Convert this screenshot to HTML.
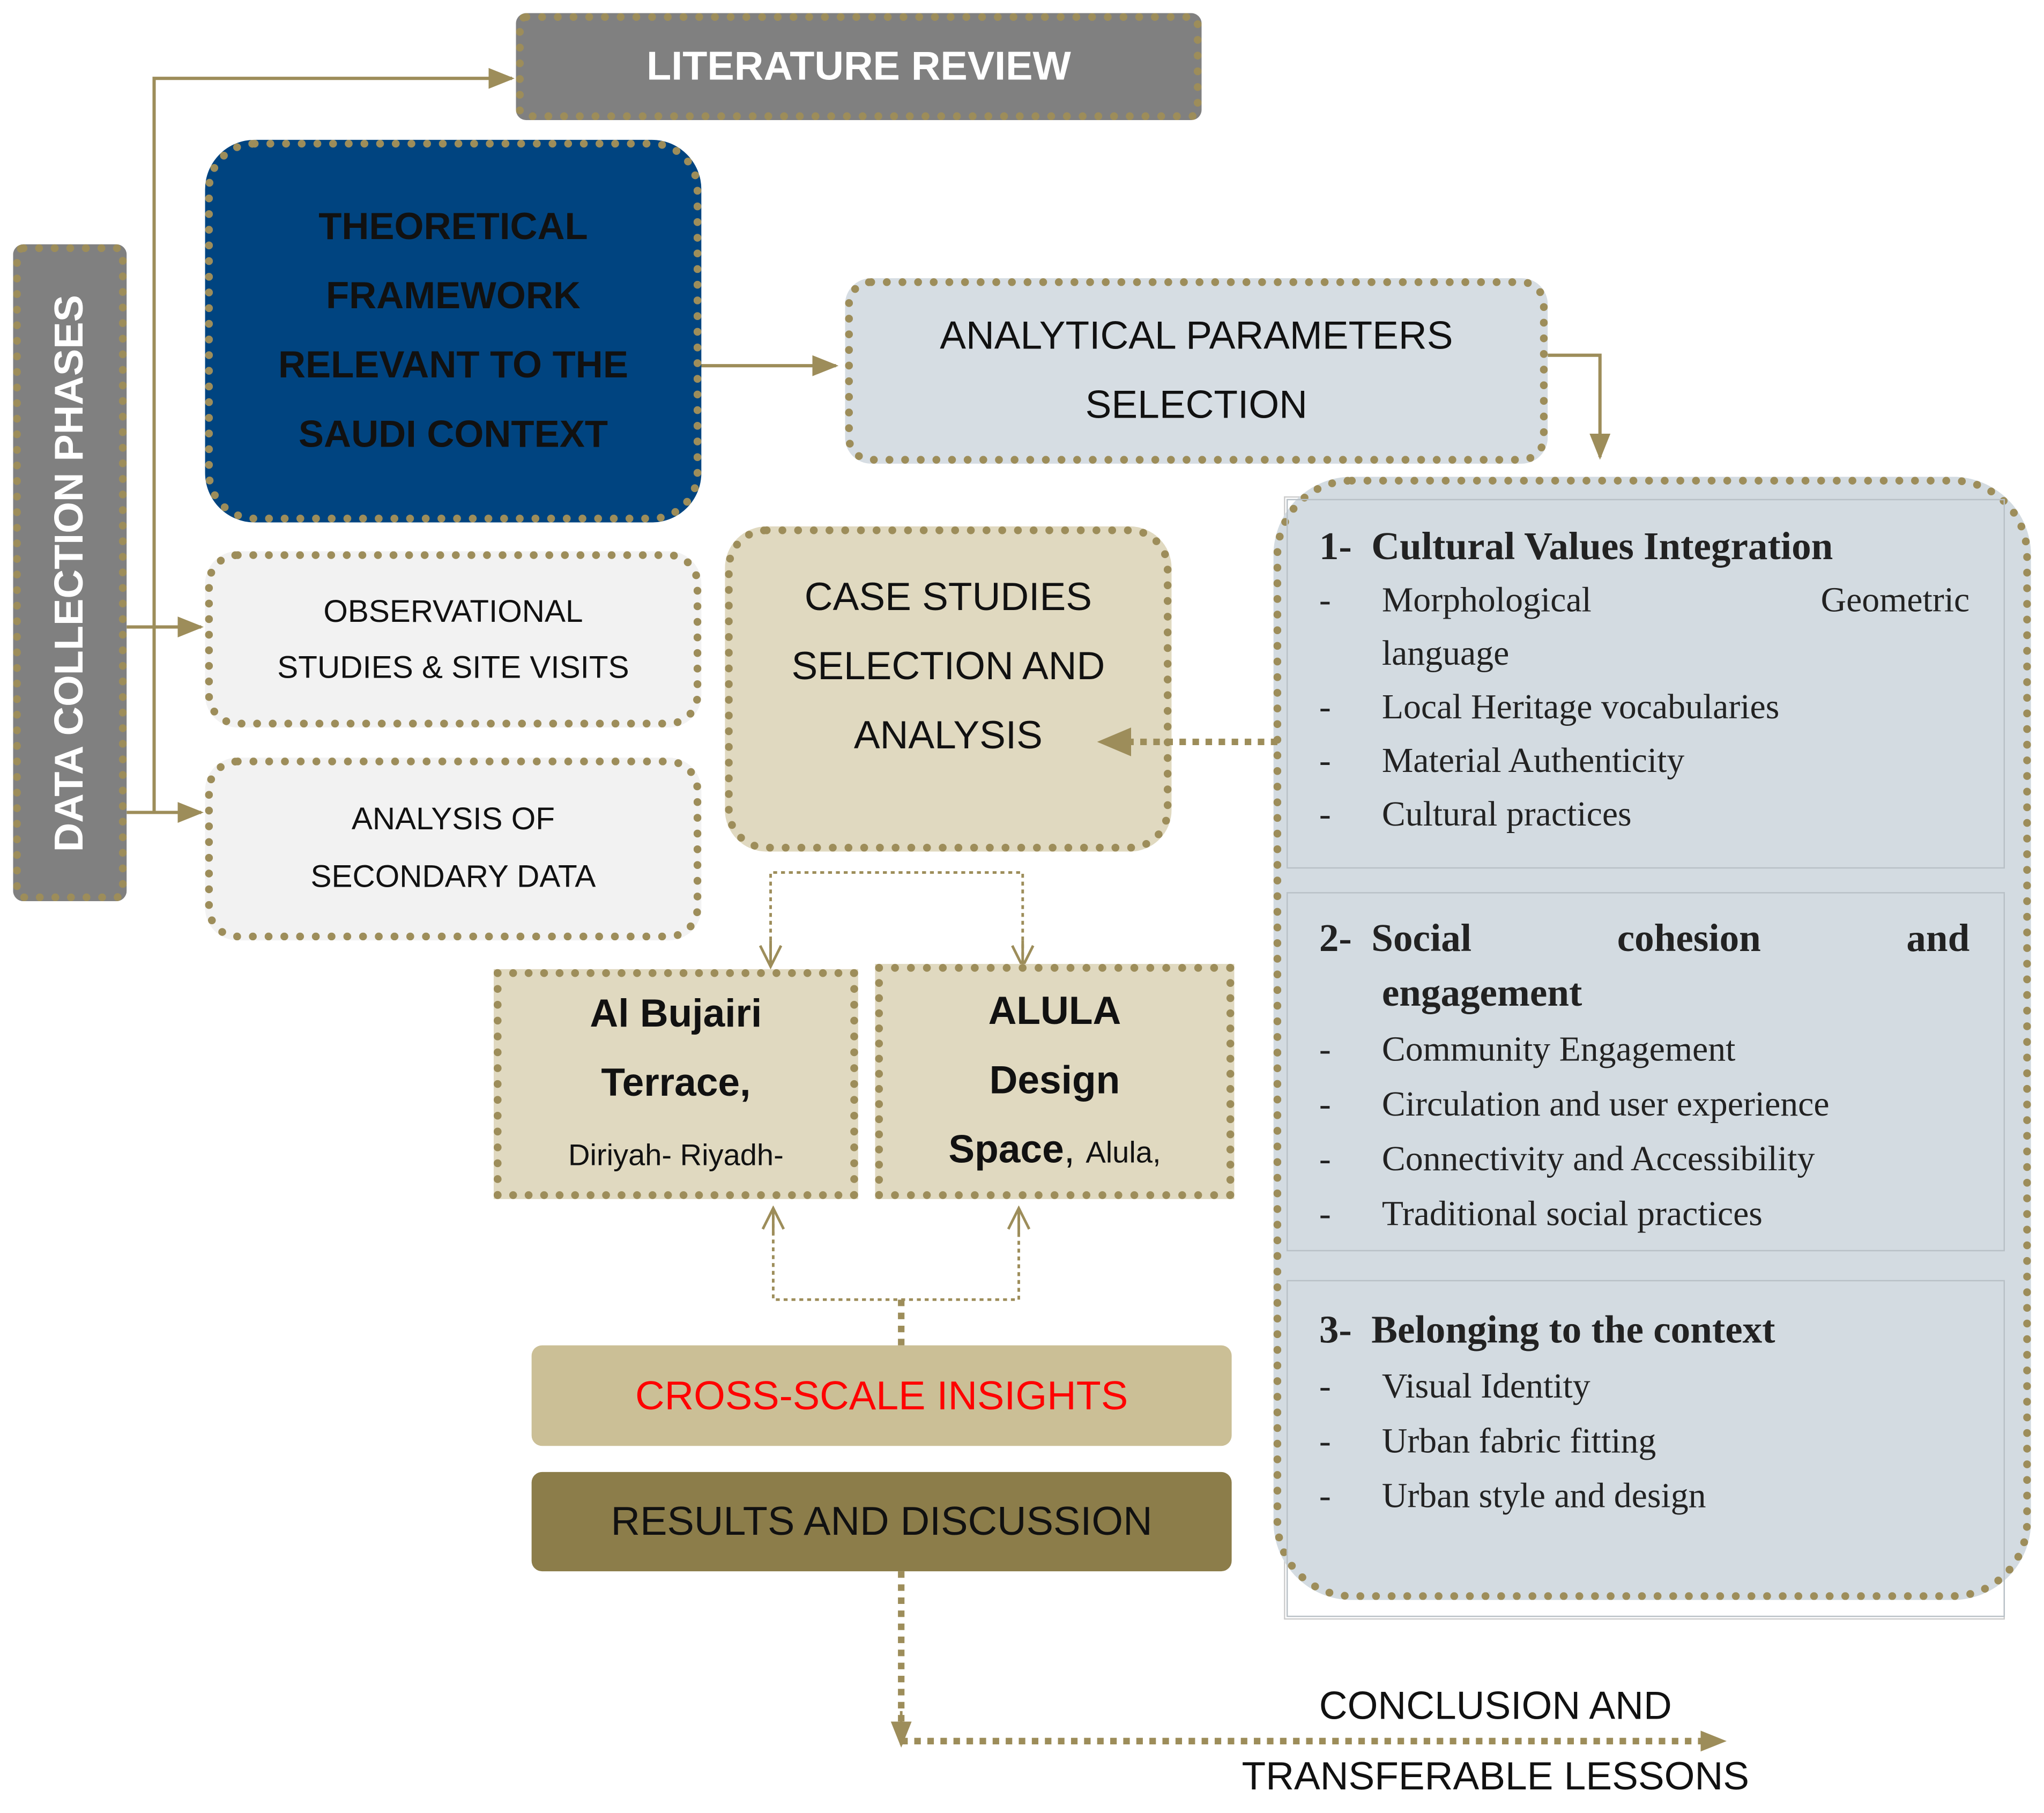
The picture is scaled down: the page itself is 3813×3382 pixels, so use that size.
<!DOCTYPE html>
<html><head><meta charset="utf-8"><style>
body{margin:0;width:3813px;height:3353px;overflow:hidden;background:#fff}
#s{position:absolute;left:0;top:0;width:1565px;height:1376px;transform:scale(2.4365);transform-origin:0 0;font-family:"Liberation Sans",sans-serif}
.b{position:absolute;box-sizing:border-box;border:6px dotted #9d8d5a;display:flex;align-items:center;justify-content:center;text-align:center}
.serif{font-family:"Liberation Serif",serif;color:#222}
</style></head><body><div id="s">
<svg width="1565" height="1376" style="position:absolute;left:0;top:0">
<defs>
<marker id="A" markerWidth="20" markerHeight="20" refX="18" refY="10" orient="auto" markerUnits="userSpaceOnUse"><path d="M0,2L20,10L0,18z" fill="#9d8d5a"/></marker>
<marker id="o" markerWidth="20" markerHeight="20" refX="18" refY="10" orient="auto" markerUnits="userSpaceOnUse"><path d="M2,2L18,10L2,18" fill="none" stroke="#9d8d5a" stroke-width="2"/></marker>
</defs>
<g stroke="#9d8d5a" stroke-width="2.5" fill="none">
<polyline points="118,622 118,60 392,60" marker-end="url(#A)"/>
<line x1="97" y1="480" x2="154" y2="480" marker-end="url(#A)"/>
<line x1="97" y1="622" x2="154" y2="622" marker-end="url(#A)"/>
<line x1="525" y1="280" x2="640" y2="280" marker-end="url(#A)"/>
<polyline points="1185,272 1225,272 1225,350" marker-end="url(#A)"/>
</g>
<g stroke="#9d8d5a" fill="none">
<polyline points="590,738 590,668 783,668 783,738" stroke-width="2" stroke-dasharray="3,3"/>
<line x1="590" y1="720" x2="590" y2="740" stroke-width="2" marker-end="url(#o)"/>
<line x1="783" y1="720" x2="783" y2="740" stroke-width="2" marker-end="url(#o)"/>
<polyline points="592,925 592,995 780,995 780,925" stroke-width="2" stroke-dasharray="3,3"/>
<line x1="592" y1="945" x2="592" y2="925" stroke-width="2" marker-end="url(#o)"/>
<line x1="780" y1="945" x2="780" y2="925" stroke-width="2" marker-end="url(#o)"/>
<line x1="690" y1="995" x2="690" y2="1030" stroke-width="5" stroke-dasharray="5,5"/>
<polyline points="690,1203 690,1333 1320,1333" stroke-width="5" stroke-dasharray="5,5" marker-end="url(#A)"/>
<line x1="690" y1="1310" x2="690" y2="1336" stroke-width="2" marker-end="url(#A)"/>
</g>
</svg>
<div class="b" style="left:395px;top:10px;width:525px;height:82px;background:#808080;color:#fff;font-weight:bold;font-size:31px;border-radius:8px">LITERATURE REVIEW</div>
<div class="b" style="left:10px;top:187px;width:87px;height:503px;background:#808080;border-radius:8px"><div style="transform:rotate(-90deg);white-space:nowrap;color:#fff;font-weight:bold;font-size:31px">DATA COLLECTION PHASES</div></div>
<div class="b" style="left:157px;top:107px;width:380px;height:293px;background:#004480;border-radius:38px;color:#111;font-weight:bold;font-size:29px;line-height:53px">THEORETICAL<br>FRAMEWORK<br>RELEVANT TO THE<br>SAUDI CONTEXT</div>
<div class="b" style="left:647px;top:213px;width:538px;height:142px;background:#d6dde3;border-radius:20px;color:#111;font-size:30px;line-height:53px">ANALYTICAL PARAMETERS<br>SELECTION</div>
<div class="b" style="left:157px;top:422px;width:380px;height:135px;background:#f2f2f2;border-radius:25px;color:#111;font-size:24px;line-height:43px">OBSERVATIONAL<br>STUDIES &amp; SITE VISITS</div>
<div class="b" style="left:157px;top:580px;width:380px;height:140px;background:#f2f2f2;border-radius:25px;color:#111;font-size:24px;line-height:44px">ANALYSIS OF<br>SECONDARY DATA</div>
<div class="b" style="left:555px;top:403px;width:342px;height:249px;background:#e0d9c0;border-radius:32px;color:#111;font-size:30px;line-height:53px;align-items:flex-start;padding-top:22px">CASE STUDIES<br>SELECTION AND<br>ANALYSIS</div>
<div class="b" style="left:378px;top:742px;width:279px;height:176px;background:#e0d9c0;color:#111;line-height:53px;font-size:30px"><div><b>Al Bujairi</b><br><b>Terrace,</b><br><span style="font-size:23px">Diriyah- Riyadh-</span></div></div>
<div class="b" style="left:670px;top:738px;width:275px;height:180px;background:#e0d9c0;color:#111;line-height:53px;font-size:30px"><div><b>ALULA</b><br><b>Design</b><br><b>Space</b>, <span style="font-size:23px">Alula,</span></div></div>
<div style="position:absolute;left:407px;top:1030px;width:536px;height:77px;background:#cbbf96;border-radius:8px;display:flex;align-items:center;justify-content:center;color:#f00;font-size:31px">CROSS-SCALE INSIGHTS</div>
<div style="position:absolute;left:407px;top:1127px;width:536px;height:76px;background:#8c7d4a;border-radius:8px;display:flex;align-items:center;justify-content:center;color:#111;font-size:31px">RESULTS AND DISCUSSION</div>
<div style="position:absolute;left:945px;top:1280px;width:400px;text-align:center;font-size:30px;line-height:54px;color:#111">CONCLUSION AND<br>TRANSFERABLE LESSONS</div>
<div style="position:absolute;left:983px;top:380px;width:552px;height:860px;border:1px solid #ccc;box-sizing:border-box"></div>
<div class="b" style="left:975px;top:365px;width:580px;height:860px;background:#d3dbe1;border-radius:60px"></div>
<div style="position:absolute;left:985px;top:382px;width:550px;height:283px;border:1px solid #b8c0c6;box-sizing:border-box"></div>
<div style="position:absolute;left:985px;top:683px;width:550px;height:275px;border:1px solid #b8c0c6;box-sizing:border-box"></div>
<div style="position:absolute;left:985px;top:980px;width:550px;height:258px;border:1px solid #b8c0c6;box-sizing:border-box"></div>
<svg width="1565" height="1376" style="position:absolute;left:0;top:0;pointer-events:none">
<line x1="978" y1="568" x2="862" y2="568" stroke="#9d8d5a" stroke-width="5" stroke-dasharray="5,5"/>
<path d="M840,568L866,557L866,579z" fill="#9d8d5a"/>
</svg>
<div class="serif" style="position:absolute;left:1010px;top:398px;width:498px;font-size:27px;line-height:41px">
<div style="font-weight:bold;font-size:30px">1-&nbsp;&nbsp;Cultural Values Integration</div>
<div style="position:relative;padding-left:48px"><span style="position:absolute;left:0">-</span><span style="display:flex;justify-content:space-between"><span>Morphological</span><span>Geometric</span></span>language</div>
<div style="position:relative;padding-left:48px"><span style="position:absolute;left:0">-</span>Local Heritage vocabularies</div>
<div style="position:relative;padding-left:48px"><span style="position:absolute;left:0">-</span>Material Authenticity</div>
<div style="position:relative;padding-left:48px"><span style="position:absolute;left:0">-</span>Cultural practices</div>
</div>
<div class="serif" style="position:absolute;left:1010px;top:698px;width:498px;font-size:27px;line-height:42px">
<div style="font-weight:bold;font-size:30px;display:flex;justify-content:space-between"><span>2-&nbsp;&nbsp;Social</span><span>cohesion</span><span>and</span></div>
<div style="font-weight:bold;font-size:30px;padding-left:48px">engagement</div>
<div style="position:relative;padding-left:48px"><span style="position:absolute;left:0">-</span>Community Engagement</div>
<div style="position:relative;padding-left:48px"><span style="position:absolute;left:0">-</span>Circulation and user experience</div>
<div style="position:relative;padding-left:48px"><span style="position:absolute;left:0">-</span>Connectivity and Accessibility</div>
<div style="position:relative;padding-left:48px"><span style="position:absolute;left:0">-</span>Traditional social practices</div>
</div>
<div class="serif" style="position:absolute;left:1010px;top:998px;width:498px;font-size:27px;line-height:42px">
<div style="font-weight:bold;font-size:30px">3-&nbsp;&nbsp;Belonging to the context</div>
<div style="position:relative;padding-left:48px"><span style="position:absolute;left:0">-</span>Visual Identity</div>
<div style="position:relative;padding-left:48px"><span style="position:absolute;left:0">-</span>Urban fabric fitting</div>
<div style="position:relative;padding-left:48px"><span style="position:absolute;left:0">-</span>Urban style and design</div>
</div>
</div></body></html>
